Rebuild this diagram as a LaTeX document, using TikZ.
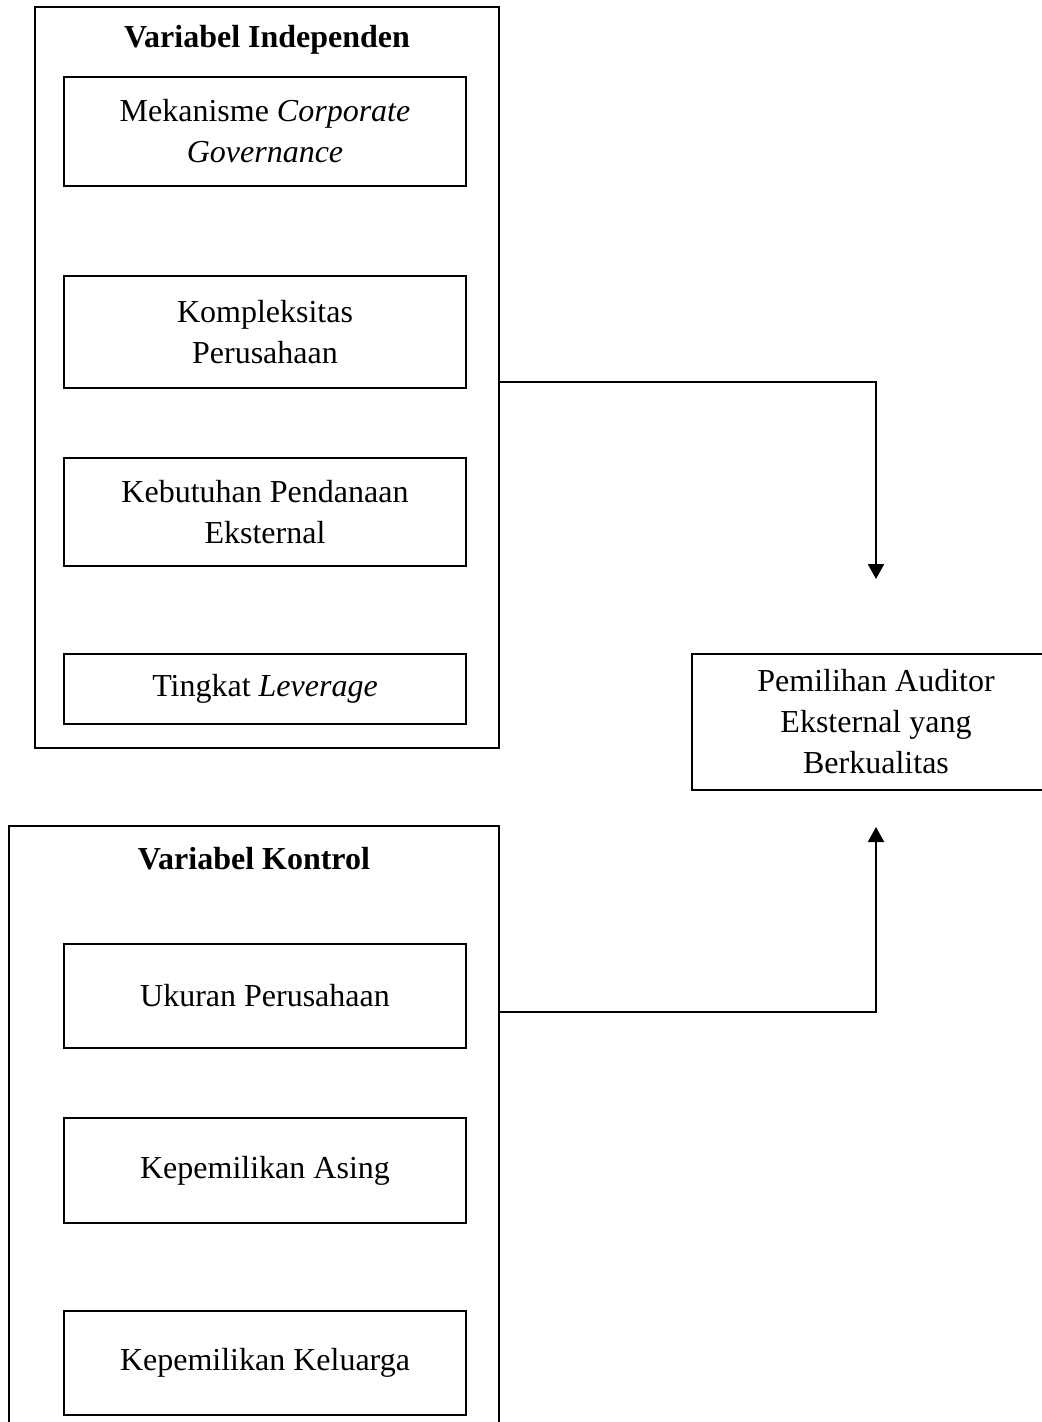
\documentclass[tikz,border=0pt]{standalone}
\usepackage{fontspec}
\setmainfont{Liberation Serif}
\usetikzlibrary{arrows.meta}

\begin{document}
\begin{tikzpicture}[
x=0.5pt, y=-0.5pt,
every node/.style={font=\fontsize{16}{20.5}\selectfont},
group/.style={draw,line width=1pt,inner sep=0pt},
var/.style={draw,line width=0.8pt,align=center,inner sep=0pt,minimum width=201pt},
title/.style={font=\fontsize{16}{20.5}\selectfont\bfseries},
arrow/.style={-{Triangle[length=7.5pt,width=8pt]},line width=1pt} ]

\useasboundingbox (0,0) rectangle (1042,1422);

% kelompok variabel
\node[group,minimum width=232pt,minimum height=370.5pt](indep) at (267,377.5) {};
\node[group,minimum width=245pt,minimum height=307pt](kontrol) at (254,1133) {};

\node[title](tindep) at (267,40) {Variabel Independen};
\node[title](tkontrol) at (254,859) {Variabel Kontrol};

% variabel independen
\node[var,minimum height=54.5pt](cg) at (265,131.5) {Mekanisme \textit{Corporate}\\ \textit{Governance}};
\node[var,minimum height=56pt](kp) at (265,332) {Kompleksitas\\ Perusahaan};
\node[var,minimum height=54pt](kpe) at (265,512) {Kebutuhan Pendanaan\\ Eksternal};
\node[var,minimum height=35pt](lev) at (265,689) {Tingkat \textit{Leverage}};

% variabel kontrol
\node[var,minimum height=52pt](ukuran) at (265,996) {Ukuran Perusahaan};
\node[var,minimum height=52.5pt](asing) at (265,1170.5) {Kepemilikan Asing};
\node[var,minimum height=52pt](keluarga) at (265,1363) {Kepemilikan Keluarga};

% variabel dependen
\node[var,minimum width=184pt,minimum height=68pt](auditor) at (876,722) {Pemilihan Auditor\\ Eksternal yang\\ Berkualitas};

\coordinate (tipA) at (876,579);
\coordinate (tipB) at (876,827);

\draw[arrow] (indep.east |- 0,382) -| (tipA);
\draw[arrow] (kontrol.east |- 0,1012) -| (tipB);

\end{tikzpicture}
\end{document}
